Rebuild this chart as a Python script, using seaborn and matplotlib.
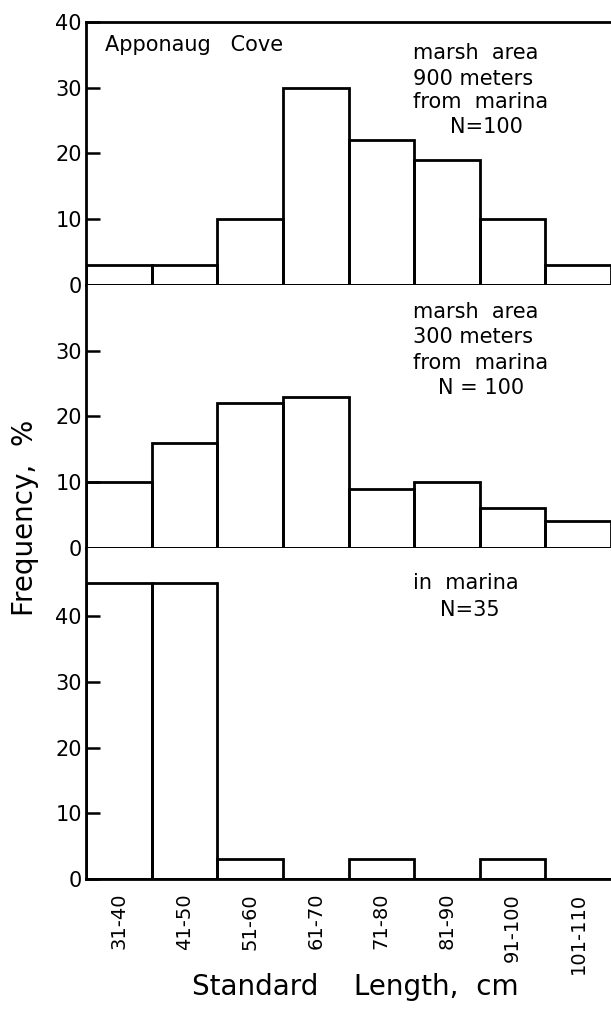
import matplotlib
matplotlib.use("Agg")
import matplotlib.pyplot as plt
import seaborn as sns
import pandas as pd

sns.set_theme(style="white")
plt.rcParams['font.family'] = ['DejaVu Sans']

categories = ["31-40", "41-50", "51-60", "61-70", "71-80", "81-90", "91-100", "101-110"]
cove_900 = [3, 3, 10, 30, 22, 19, 10, 3]
cove_300 = [10, 16, 22, 23, 9, 10, 6, 4]
marina = [45, 45, 3, 0, 3, 0, 3, 0]

notes_900 = ["marsh  area", "900 meters", "from  marina", "N=100"]
notes_300 = ["marsh  area", "300 meters", "from  marina", "N = 100"]
notes_marina = ["in  marina", "N=35"]

panels = [
    (cove_900, 40, [0, 10, 20, 30, 40], notes_900),
    (cove_300, 40, [0, 10, 20, 30], notes_300),
    (marina, 50.4, [0, 10, 20, 30, 40], notes_marina),
]
# layout: (x start px, y center px) of each annotation line
note_pos = [
    [(413, 53), (413, 79), (413, 102), (450, 127)],
    [(413, 312), (413, 337), (413, 363), (438, 388)],
    [(413, 583), (440, 610)],
]

W, H = 611, 1009
fig = plt.figure(figsize=(W / 100, H / 100), dpi=100)
gs = fig.add_gridspec(3, 1, height_ratios=[40, 40, 50.4], hspace=0,
                      left=86 / W, right=1.0, top=1 - 22 / H, bottom=1 - 879 / H)

for i, (vals, ymax, ticks, lines) in enumerate(panels):
    ax = fig.add_subplot(gs[i])
    df = pd.DataFrame({"cat": categories, "val": vals})
    sns.barplot(data=df, x="cat", y="val", ax=ax, fill=False, color="black",
                width=1.0, linewidth=2, errorbar=None)
    ax.set_xlim(-0.5, 7.5)
    ax.set_ylim(0, ymax)
    ax.set_yticks(ticks)
    ax.set_yticklabels([str(t) for t in ticks])
    ax.tick_params(axis="y", direction="in", length=10, width=1.8, pad=3,
                   labelsize=15, left=True, colors="black")
    ax.set_xlabel("")
    ax.set_ylabel("")
    for s in ["left", "bottom", "top"]:
        ax.spines[s].set_color("black")
        ax.spines[s].set_linewidth(2)
    ax.spines["right"].set_visible(False)
    if i != 0:
        ax.spines["top"].set_visible(False)
    ax.set_xticks(range(len(categories)))
    if i < 2:
        ax.tick_params(axis="x", bottom=False, labelbottom=False)
    else:
        ax.set_xticklabels(categories, rotation=90, fontsize=14)
        ax.tick_params(axis="x", bottom=False, pad=4, colors="black")
    for line, (px, py) in zip(lines, note_pos[i]):
        fig.text(px / W, 1 - py / H, line, fontsize=15, ha="left", va="center",
                 color="black")

fig.text(105 / W, 1 - 45 / H, "Apponaug   Cove", fontsize=15, ha="left", va="center",
         color="black")
fig.text(25 / W, 1 - 518 / H, "Frequency,  %", fontsize=20, rotation=90,
         ha="center", va="center", color="black")
fig.text(355 / W, 1 - 987 / H, "Standard    Length,  cm", fontsize=20,
         ha="center", va="center", color="black")

fig.savefig("out.png", dpi=100, facecolor="white")
